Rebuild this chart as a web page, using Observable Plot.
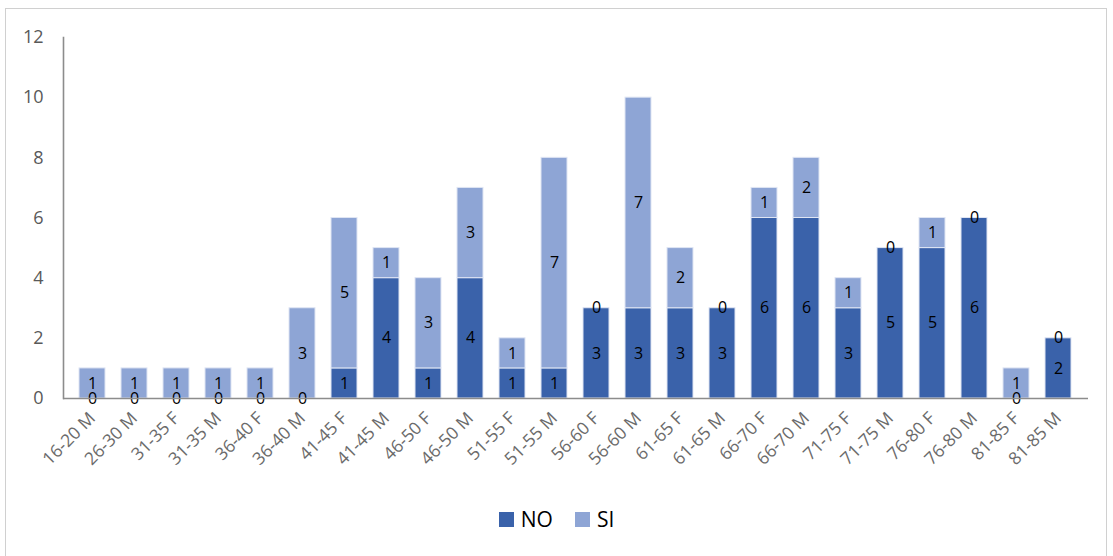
<!DOCTYPE html>
<html>
<head>
<meta charset="utf-8">
<script src="https://cdn.jsdelivr.net/npm/d3@7"></script>
<script src="https://cdn.jsdelivr.net/npm/@observablehq/plot@0.6"></script>
<style>
  html, body { margin: 0; padding: 0; background: #fff; }
  #wrap { position: relative; width: 1113px; height: 556px; overflow: hidden; font-family: "Open Sans", sans-serif; }
  #border { position: absolute; left: 5px; top: 8px; width: 1102px; height: 600px; border: 1px solid #d0d0d0; box-sizing: border-box; }
  #chart { position: absolute; left: 0; top: 0; }
  #legend { position: absolute; left: 0; top: 505px; width: 1113px; display: flex; justify-content: center; gap: 22px; font-size: 21px; color: #000; }
  .item { display: flex; align-items: center; gap: 7px; }
  .sw { width: 15px; height: 15px; display: inline-block; }
</style>
</head>
<body>
<div id="wrap">
  <div id="border"></div>
  <div id="chart"></div>
  <div id="legend"></div>
</div>
<script>
const categories = ["16-20 M","26-30 M","31-35 F","31-35 M","36-40 F","36-40 M","41-45 F","41-45 M","46-50 F","46-50 M","51-55 F","51-55 M","56-60 F","56-60 M","61-65 F","61-65 M","66-70 F","66-70 M","71-75 F","71-75 M","76-80 F","76-80 M","81-85 F","81-85 M"];
const noValues = [0,0,0,0,0,0,1,4,1,4,1,1,3,3,3,3,6,6,3,5,5,6,0,2];
const siValues = [1,1,1,1,1,3,5,1,3,3,1,7,0,7,2,0,1,2,1,0,1,0,1,0];
const seriesNames = ["NO","SI"];
const seriesColors = ["#3A62AA","#8EA5D5"];
const yTicks = [0,2,4,6,8,10,12];

const data = [];
categories.forEach((c, i) => {
  data.push({cat: c, series: "NO", value: noValues[i]});
  data.push({cat: c, series: "SI", value: siValues[i]});
});

const stackOpts = {x: "cat", y: "value", z: "series", order: seriesNames};

const chart = Plot.plot({
  width: 1113,
  height: 556,
  marginLeft: 63,
  marginRight: 25,
  marginTop: 37,
  marginBottom: 158,
  style: {fontFamily: "Open Sans, sans-serif", background: "transparent"},
  x: {domain: categories, padding: 0.37, label: null},
  y: {domain: [0, 12], ticks: yTicks, label: null},
  color: {domain: seriesNames, range: seriesColors},
  marks: [
    Plot.barY(data, Plot.stackY({...stackOpts, fill: "series", stroke: "#dfe5f3", strokeWidth: 1})),
    Plot.text(data, Plot.stackY({...stackOpts, y: "value", text: d => String(d.value), fill: "#000", fontSize: 16})),
    Plot.ruleY([0], {stroke: "#8c8c8c", strokeWidth: 1.6}),
    Plot.frame({anchor: "left", stroke: "#8c8c8c", strokeWidth: 1.6}),
    Plot.axisY({ticks: yTicks, tickSize: 0, tickPadding: 20, fontSize: 18, fill: "#595959", label: null}),
    Plot.axisX({tickSize: 0, tickPadding: 17, tickRotate: -45, fontSize: 17.5, fill: "#6b6b6b", label: null, style: {letterSpacing: "0.5px"}})
  ]
});
document.getElementById("chart").appendChild(chart);

const legend = document.getElementById("legend");
seriesNames.forEach((s, i) => {
  const it = document.createElement("div");
  it.className = "item";
  const sw = document.createElement("span");
  sw.className = "sw";
  sw.style.background = seriesColors[i];
  const t = document.createElement("span");
  t.textContent = s;
  it.appendChild(sw); it.appendChild(t);
  legend.appendChild(it);
});
</script>
</body>
</html>
